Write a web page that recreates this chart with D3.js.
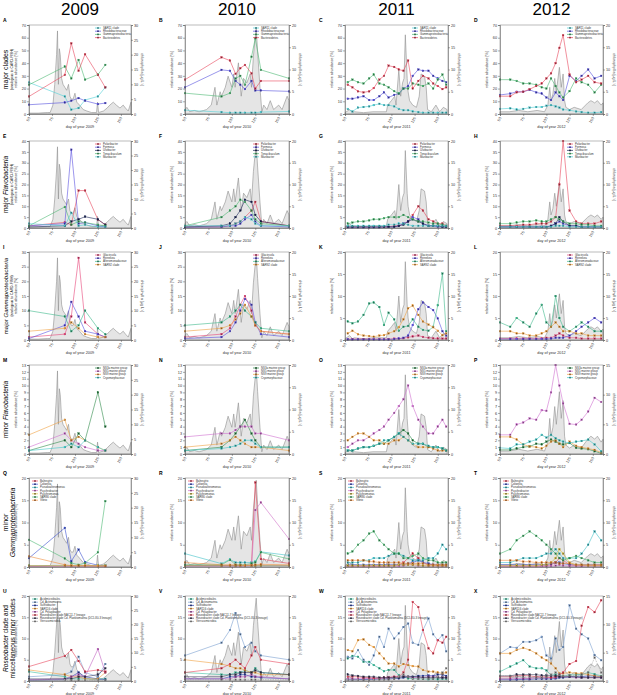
<!DOCTYPE html>
<html><head><meta charset="utf-8">
<script src="https://cdn.jsdelivr.net/npm/d3@7"></script>
<style>body{margin:0;background:#fff}text{font-family:"Liberation Sans",Arial,sans-serif}</style>
</head><body><svg id="c" width="617" height="695"></svg>
<script>
// ---------------- DATA ----------------
const years = ["2009", "2010", "2011", "2012"];
const xTicks = [50, 75, 100, 125, 150];
const sampleDays2009 = [50, 89, 96, 104, 111, 125, 133];
const sampleDays2010 = [50, 89, 98, 104, 109, 114, 121, 125, 131, 161];
const sampleDays2011 = [53, 58, 64, 70, 76, 81, 87, 92, 97, 103, 108, 113, 118, 123, 129, 134, 140, 145, 150, 155, 159];
const sampleDays2012 = [50, 61, 68, 75, 82, 89, 95, 100, 105, 110, 114, 118, 125, 132, 138, 145, 152, 159];

const chlDays2009 = [50,60,70,73,76,78,80,81,82,83,84,85.5,87,89,91,93,94.5,96,98,100,102,105,109,113,118,123.5,124.6,125.7,131,135,138,141.7,145,149,152.5,155,158,161];
const chlVals2009 = [0.3,0.3,0.5,0.5,3,10,20,28,10,22,20,12,10,9,8,10,6,5,5,7,4,3,1.5,1,0.5,0.5,4,0.5,1,2,3,4,3,2,3,2,1,4];
const chlDays2010 = [50,52,55,60,65,70,73,78,82,84,87.5,89,93,96,100,102,103.5,107,110,112.5,116,119.6,121,123,126,127.5,130,132,134,137.5,141,144.6,150,153.6,159,161];
const chlVals2010 = [1,1.5,0.5,0.8,0.5,0.8,1,2,6,2,5,4,6,8.5,6,9,6,11.5,4,8,7,9,6,13,19.5,14,6,0.5,2,1,3,1,2,1,4,3];
const chlDays2011 = [50,55,58,60,70,80,90,94.6,96,100,103.6,105,108,110,112,113.6,115,117,118,119.6,123,127,130,132,135.7,137.5,139,143,148,152,156,160];
const chlVals2011 = [0.3,1,0.3,0.5,0.3,0.5,0.5,0.5,2,3,4,2,10,4,7,8,17.8,8,5,3,2,1.5,4,9,8.5,6,1,0.5,2,0.5,1.5,1];
const chlDays2012 = [50,60,70,80,90,98,101.6,103.6,105,107,109,110.7,114,116,118,119.6,121,125,130,137.5,144.6,148,152,155,159,161];
const chlVals2012 = [0.5,0.5,0.8,0.5,0.8,0.5,2,6,3,4.5,8,5,10.5,6,9,3,1.5,1,1.5,1,2.5,3,2.5,3,2,2.5];

const namesRow1 = ["SAR11 clade", "Rhodobacteraceae", "Gammaproteobacteria", "Bacteroidetes"];
const namesRow2 = ["Polaribacter", "Formosa", "Ulvibacter", "Tenacibaculum", "Maribacter"];
const namesRow3 = ["Glaciecola", "Reinekea", "Alteromonadaceae", "SAR92 clade"];
const namesRow4 = ["NS3a marine group", "NS5 marine group", "NS9 marine group", "Cryomorphaceae"];
const namesRow5 = ["Balneatrix", "Colwellia", "Pseudoalteromonas", "Psychrobacter", "Psychromonas", "SAR86 clade", "Vibrio"];
const namesRow6 = ["Acidimicrobiales", "Cd. Actinomarina", "Sulfitobacter", "SAR116 clade", "Cd. Pelagibacter", "Roseobacter clade NAC11-7 lineage", "Roseobacter clade Cd. Planktomarina (DC5-80-3 lineage)", "Verrucomicrobia"];

// relative abundance [%], one row per taxon (legend order)
const panelA = [[24.8,13.8,3.4,4.7,11,13.8,21],[7.3,9,10.4,12.5,10.4,7.8,8.6],[23,37.3,28,42.5,27,31,38.6],[13.8,30.8,55.6,34,47,30.8,20.9]];
const panelB = [[3,1.5,1,1,1,1,1,1,1.5,2],[21,34.7,34,26,23,19.6,26,18.5,18.5,17.8],[16.4,13.8,16.4,28,30,23,45,59.5,34.7,28],[27,44.6,42,31.6,36,38.6,32,20,26,26]];
const panelC = [[4,2,5,5.5,6,7,8,7,7,6,4,3,3,2,1.5,1,1,1,1,1,1],[12,12,13,14,11,11,14,17,13,15,16,20,22,30,35,34,34,30,28,26,25],[25,27,25,24,28,31,24,23,21,18,16,20,20,24,23,22,24,20,27,31,23],[23,21,17.8,17,17.8,20.4,27,30,38,37,35,34,42,20,26,30,28,24,22,19.6,21]];
const panelD = [[4,4.5,3.5,4,5,5.5,5.5,6.5,7,6,5,3.5,3,2,1.5,1,1,1.5],[15,16,17.5,17.5,19,17,16,13,11,17,14,11,30,26,30,35,28,30],[27,27,26,24,24,23,21,20,28,22,17,13,18,28,25,23,17,23],[14,14,17,17.5,19.5,22,24,28,32,40,52,62,31,25,27,30,25,24]];
const panelE = [[1,2.6,1.5,17.2,17.2,3.8,1.5],[1,2,36,2,2.5,1,0.5],[0.5,1,3,4,5.2,4,1.5],[1,9.7,1.5,3,2.5,1.5,1],[2,1,7,1,1.5,0.5,0.5]];
const panelF = [[0.5,0.5,1,2,3,5,8,12,3,1],[0.3,0.5,1,1,2,4,6,3,1,0.5],[0.5,1,2,5,8,13,12,6,3,1],[1,5,8,10,13,12,8,4,2,1],[1,1,1,2,3,5,4,2,1,1]];
const panelG = [[0.5,0.5,0.5,0.5,0.5,0.5,0.5,0.5,0.5,1,1,2,3,6,10,8,4,3,2,2,1],[0.3,0.3,0.3,0.3,0.3,0.3,0.3,0.5,0.5,0.5,1,2,3,5,4,2,1,1,0.5,0.5,0.5],[0.5,0.5,0.5,0.5,0.5,0.5,0.5,0.5,0.5,0.5,1,1.5,3,4,3,2,1,1,1,0.5,0.5],[2,2.5,3,3,3.5,4,4,4.5,5,5,5,6,5,4,3,3,2.5,2,2,1.5,1],[1,1,1,1,1,1,1,1,1.5,1.5,2,2,1.5,1,1,1,1,1,1,1,1]];
const panelH = [[1,1,1,1.5,1.5,2,2,2,3,5,20,40,8,3,2,2,2,3],[0.5,0.5,0.5,0.5,0.5,0.5,0.5,0.5,1,2,3,2,1,1,0.5,0.5,0.5,0.5],[0.5,0.5,0.5,0.5,0.5,0.5,0.5,0.5,1,2,5,3,1,1,0.5,0.5,0.5,0.5],[2,2,2.5,3,3,3.5,3,3,4,5,4,3,2,2,1.5,1.5,1,1],[0.5,0.5,0.5,0.5,0.5,0.5,0.5,0.5,0.5,1,1,1,0.5,0.5,0.5,0.5,0.5,0.5]];
const panelI = [[1,2,8,28,6,2,1],[0.5,5,13,8,3,2,1],[10,8,3,5,10,4,2],[3,4,6,4,2,1,1]];
const panelJ = [[1,2,4,8,12,15,10,5,3,2],[0.5,1,3,6,10,14,12,6,2,1],[5,6,8,10,12,10,8,6,4,3],[3,4,5,7,9,12,8,5,3,2]];
const panelK = [[0.2,0.2,0.2,0.2,0.2,0.2,0.2,0.2,0.2,0.3,0.3,0.4,0.6,0.8,1,0.7,0.5,0.4,0.3,0.3,0.3],[0.1,0.1,0.1,0.1,0.1,0.1,0.1,0.1,0.1,0.2,0.3,0.5,1,3.4,7,8.5,7.5,6.8,4.9,2,1],[4.2,3.8,4.2,5.7,8.3,8.5,7.5,3.4,6.2,4.7,2.1,3,3.2,4.7,3,2.3,2.1,3,7.9,15.1,2],[1.5,2.1,1.3,1,0.9,0.75,1,1.1,1.5,2,2.9,4.7,7.2,7.8,5.7,4.2,3.5,2.9,2.1,1.1,1.5]];
const panelL = [[0.3,0.3,0.3,0.3,0.3,0.3,0.3,0.5,0.5,1,1.5,1,0.5,0.5,0.3,0.3,0.3,0.3],[0.2,0.2,0.2,0.2,0.2,0.2,0.2,0.2,0.3,0.5,0.5,0.5,1,2,3,4,5,4],[4,3,5,4,3,6,8,4,3,10,5,3,2,3,4,3,2,2],[2,2,1.5,1.5,1,1,1.5,2,3,4,3,2,2,1.5,1.5,1,1,1]];
const panelM = [[0.5,2,1,3,2,9,4],[1,3,2,1.5,1,0.5,0.5],[2.8,5,2,2.5,2,1,0.5],[0.5,1,1.5,1,2,1,0.5]];
const panelN = [[0.5,1,2,3,4,5,3,2,1,1],[2.5,3,3,3.5,4,4,4,3,3,2],[1,1.5,2,2.5,2,1.5,1,1,1,0.5],[0.5,0.8,1,1.2,1.5,2,2,1.5,1,1]];
const panelO = [[0.5,0.5,0.8,1,1,1.2,1.5,1.5,2,2.5,3,3.5,3,2,1.5,1.5,1,1,1,0.8,0.5],[1,1.5,2,2,2.5,3,3.5,4,5,6,7,8,10,7,5,4,3,3,4,5,4],[2,2.5,3,3,2.5,2,2,1.5,1.5,2,2,2.5,2,1.5,1,1,1,0.8,0.5,0.5,0.5],[0.5,0.5,0.8,1,1,1.2,1.5,2,2,2.5,3,2.5,2,1.5,1.5,1.5,1.2,1,1,0.8,0.5]];
const panelP = [[0.6,0.6,0.8,1,1.1,1.5,1.4,1.8,2.1,1.8,1.5,1.4,1.6,0.9,0.8,0.7,0.4,0.1],[2.8,2.8,4.3,4.6,5.2,5,6.4,6.3,9,13,10,7.4,4.4,4.3,5,6.2,8.2,7.6],[2.5,2.5,2.1,1.4,1.1,1,0.8,1.2,1.8,2,1.5,1,1.8,1.2,1,0.8,0.6,0.2],[0.9,0.8,1.4,1.4,1.8,2.1,2.8,2.4,2.8,2.3,2,1.8,1.6,1.8,1.9,2.1,1.4,0.4]];
const panelQ = [[0.2,0.2,0.2,0.2,0.2,0.2,0.2],[2,8.8,1.3,3.9,1.1,0.4,0.3],[0.3,0.3,0.3,0.3,0.3,0.3,0.3],[0.2,0.2,0.2,0.2,0.2,0.2,0.2],[0.3,0.3,0.3,0.3,0.3,0.3,0.3],[6.1,1.9,0.9,0.5,0.9,3.3,14.8],[2.4,0.5,0.3,0.3,0.3,0.2,0.2]];
const panelR = [[0.3,0.3,0.3,0.3,0.3,0.3,0.5,19,1.8,0.8],[0.3,0.3,0.3,0.3,0.3,0.3,0.3,0.3,0.3,0.3],[3,0.75,1.7,1,1,1,1,1.2,3.4,2.6],[0.2,0.2,0.2,0.2,0.2,0.2,0.3,12.8,14.5,6.3],[0.3,0.3,0.3,0.3,0.3,0.3,0.3,0.3,0.3,0.3],[0.5,0.5,1.6,0.5,0.5,0.5,0.8,1,3.3,1.8],[1,0.5,0.5,0.5,0.4,0.4,0.4,0.5,0.6,0.5]];
const panelS = [[0.2,0.2,0.2,0.2,0.2,0.2,0.2,0.2,0.3,0.3,0.5,1,2,3,2,1,0.5,0.5,0.3,0.3,0.3],[0.5,0.5,0.5,0.5,0.5,0.5,0.5,0.5,0.5,0.5,0.5,0.5,0.8,1,1.5,1,0.8,0.5,0.5,0.5,0.5],[1,1,1,1.5,1.5,2,2,2,2.5,3,3,2.5,2,1.5,1.5,1.5,2,2,3,5,4],[0.2,0.2,0.2,0.2,0.2,0.2,0.2,0.2,0.2,0.2,0.2,0.3,0.5,0.5,0.3,0.3,0.2,0.2,0.2,0.2,0.2],[0.3,0.3,0.3,0.3,0.3,0.3,0.3,0.3,0.3,0.3,0.5,0.5,0.5,0.5,0.5,0.3,0.3,0.3,0.3,0.3,0.3],[3,3.5,5,6,7.5,8,6,5,4,3,3,2,2,2.5,3,2,1.5,1.5,1,1,1],[1.5,1.5,1.5,1.5,1.2,1.2,1,1,1,1,1,0.8,0.8,0.8,0.8,0.8,0.5,0.5,0.5,0.5,0.5]];
const panelT = [[0.2,0.2,0.2,0.2,0.2,0.2,0.2,0.3,0.5,1,2,1.5,0.5,0.3,0.3,0.3,0.3,0.3],[0.5,0.5,0.5,0.5,0.5,0.5,0.5,0.5,0.8,1,1,0.8,0.5,0.5,0.5,0.5,0.5,0.5],[1,1,1.5,2,2,2,2.5,3,3,4,3,2,2,2,3,5,8,6],[0.2,0.2,0.2,0.2,0.2,0.2,0.2,0.2,0.2,0.3,0.5,0.3,0.2,0.2,0.2,0.2,0.2,0.2],[0.3,0.3,0.3,0.3,0.3,0.3,0.5,0.5,1,2,4,3,1,0.5,0.5,0.3,0.3,0.3],[3,4,6,7,8,7,6,5,4,3,2,1.5,2,2.5,2,1.5,1,1],[1.5,1.5,1.5,1.2,1.2,1,1,1,1,1,0.8,0.8,0.8,0.5,0.5,0.5,0.5,0.5]];
const panelU = [[2.2,1,0.5,0.5,0.5,0.5,0.5],[1,1.5,2.2,5.7,2,1,4],[0.2,0.3,1,2,1,0.5,0.3],[2.6,1.5,1,1,0.5,0.5,2],[0.3,0.5,1,1.5,1,7.5,2],[3.4,5.9,7.3,4.7,2.2,2.6,2.2],[0.5,0.5,0.5,1,1,1.5,3],[0.2,0.2,0.2,0.2,0.2,0.2,0.2]];
const panelV = [[2,1.5,1.5,2,2,2.5,2,3,2,1.5],[6,9,12,16,11,8,9,7,6,5],[0.5,0.5,1,1,1.5,1.5,1,1,0.8,0.5],[5,4,3.5,3,3,2.5,2,2,1.5,1.5],[0.5,0.5,0.5,1,1,1,1.5,1,1,0.5],[2,3,4,5,4,3,6,8,5,4],[1,1,1.5,1.5,2,2,2,2.5,2,1.5],[0.3,0.3,0.3,0.3,0.3,0.3,0.3,0.3,0.3,0.3]];
const panelW = [[5.3,5.9,5.7,4.5,4.5,3.75,3,2.3,2.6,2.6,1.4,1,0.6,0.6,0.5,0.5,0.4,0.5,0.4,0.5,0.5],[5.7,5.3,7.3,5,3.8,6,10.4,8,12.3,10,11.2,12.7,13.5,9,8.5,12,14.7,11,9.6,10.8,7],[0.3,0.3,0.3,0.4,0.4,0.4,0.5,0.5,0.5,0.6,0.6,0.8,1,1,1.2,1.2,1.3,1.2,1.5,1.5,1.2],[7.3,7,9.6,9.8,8.5,8,6.5,5.3,4.1,4.1,3.4,4,3.75,3.5,3.4,2.6,2.2,2.2,2,1.8,2],[0.5,0.5,0.5,0.6,0.6,0.6,0.6,0.8,0.8,1,1,1.2,1,0.8,0.8,0.8,1,1,1,0.8,0.8],[1,1,1,0.8,0.8,0.7,0.7,0.8,0.8,1,1,2,5,18.6,17.4,12,7.7,6.5,9.6,9,10.4],[1.5,1.3,1.2,1,1,1,0.8,0.8,0.8,0.8,0.8,1,1,1,1,0.8,0.8,0.8,0.8,0.8,0.8],[0.2,0.2,0.2,0.2,0.2,0.2,0.3,0.3,0.3,0.5,1,1.5,1,0.5,0.5,0.5,0.5,0.5,1,2,3]];
const panelX = [[2.2,3.4,4.1,4.9,3.4,3,3,2.5,1.4,1.5,1.2,1.2,1.4,1.5,1.5,2,1.6,1.2],[6.5,8,7.8,9.2,9.2,9.6,10.4,6,5.3,10,7.3,8,17.8,12.3,11,10,6.1,4.9],[0.3,0.3,0.3,0.4,0.4,0.5,0.5,0.5,0.5,0.6,0.8,0.8,1,1,1,1.2,1.2,1],[6.5,6.5,7.3,7.8,7.3,6.5,5.5,4.9,4.1,3,1.8,1.8,2,1.8,1.8,1.5,1.2,1],[0.5,0.5,0.6,0.6,0.6,0.8,0.8,0.8,0.8,0.8,1,1,1,0.8,0.8,0.8,0.8,0.8],[1,1,1.2,1.3,1.2,1,1,1,0.8,1,1.5,2,4,4.7,13,17.4,16.2,19],[1.2,1.2,1.5,1.5,1.5,1.5,1.3,1.3,1.2,1.2,1,1,1,1,0.8,0.8,0.8,0.8],[1.2,1.2,1,1,1,0.8,0.8,1,1.5,2,1.5,1.2,1.3,1.2,1.5,2,5.5,2]];

// axis maxima per panel (rows x years)
const relMax = [[70,70,70,70],[40,40,40,40],[30,30,20,20],[13,13,13,13],[20,20,20,20],[20,20,20,20]];
const relStep = [10,5,5,1,5,5];
const chlMax = [[30,20,20,20],[30,20,20,20],[30,20,20,20],[30,20,20,15],[30,20,20,20],[30,20,20,15]];

// ---------------- STYLE / LAYOUT ----------------
const colorsRow1 = ["#4fcfd6","#5550dd","#4cb872","#e8455c"];
const colorsRow2 = ["#e8455c","#5a4fe0","#1e2a5c","#4cb872","#4fcfd6"];
const colorsRow3 = ["#e8457a","#5a4fe0","#3cb88a","#f0a040"];
const colorsRow4 = ["#2f8a4a","#d070d0","#f0a040","#40c8c8"];
const colorsRow5 = ["#e8455c","#3a50d0","#40c0c8","#d070c8","#d8c040","#4cb872","#f09040"];
const colorsRow6 = ["#3dbfa0","#7a9fd0","#2840b0","#f0a040","#c060c0","#e8455c","#404060","#a0a0a0"];

const rowNames = [namesRow1,namesRow2,namesRow3,namesRow4,namesRow5,namesRow6];
const rowColors = [colorsRow1,colorsRow2,colorsRow3,colorsRow4,colorsRow5,colorsRow6];
const panels = [panelA,panelB,panelC,panelD,panelE,panelF,panelG,panelH,panelI,panelJ,panelK,panelL,panelM,panelN,panelO,panelP,panelQ,panelR,panelS,panelT,panelU,panelV,panelW,panelX];
const sampleDays = [sampleDays2009,sampleDays2010,sampleDays2011,sampleDays2012];
const chlDays = [chlDays2009,chlDays2010,chlDays2011,chlDays2012];
const chlVals = [chlVals2009,chlVals2010,chlVals2011,chlVals2012];
const letters = "ABCDEFGHIJKLMNOPQRSTUVWX";

const colX = [29,185,345,500], colW = [102,104,103,103];
const rowY = [25,141,252,365,478,596], rowH = [89,87,88,89,89,85];
const legendLeft = [false,false,false,false,true,true];

const svg = d3.select("#c");

years.forEach((yr,c)=>{
  svg.append("text").attr("x",colX[c]+colW[c]/2).attr("y",15).attr("text-anchor","middle")
    .attr("font-size",17).text(yr);
});

function styleAxis(g){
  g.selectAll("path,line").attr("stroke","#555").attr("stroke-width",0.5);
  g.selectAll("text").attr("font-size",3.8).attr("fill","#333");
}

for(let r=0;r<6;r++){
  for(let c=0;c<4;c++){
    const w=colW[c], h=rowH[r];
    const g=svg.append("g").attr("transform",`translate(${colX[c]},${rowY[r]})`);
    const x=d3.scaleLinear().domain([50,161]).range([0,w]);
    const y=d3.scaleLinear().domain([0,relMax[r][c]]).range([h,0]);
    const y2=d3.scaleLinear().domain([0,chlMax[r][c]]).range([h,0]);
    const chl=d3.zip(chlDays[c],chlVals[c]);
    g.append("path").datum(chl)
      .attr("d",d3.area().x(d=>x(d[0])).y0(h).y1(d=>y2(Math.min(d[1],chlMax[r][c]))))
      .attr("fill","#e5e5e5").attr("stroke","#8f8f8f").attr("stroke-width",0.6);
    const data=panels[r*4+c];
    const cols=rowColors[r];
    const line=d3.line().x(d=>x(d[0])).y(d=>y(d[1]));
    data.forEach((vals,i)=>{
      const pts=d3.zip(sampleDays[c],vals);
      const col=cols[i];
      g.append("path").datum(pts).attr("d",line).attr("fill","none")
        .attr("stroke",col).attr("stroke-width",0.7).attr("stroke-opacity",0.85)
        .attr("stroke-dasharray", i===7 && r===5 ? "1.5,1" : null);
      g.selectAll(null).data(pts).enter().append("rect")
        .attr("x",d=>x(d[0])-0.85).attr("y",d=>y(d[1])-0.85).attr("width",1.7).attr("height",1.7)
        .attr("fill",d3.color(col).darker(1.6)).attr("stroke",col).attr("stroke-width",0.3);
    });
    g.append("rect").attr("width",w).attr("height",h).attr("fill","none").attr("stroke","#777").attr("stroke-width",0.5);
    const yt=d3.range(0,relMax[r][c]+1e-6,relStep[r]);
    const ga=g.append("g").call(d3.axisLeft(y).tickValues(yt).tickSize(2).tickPadding(1)); styleAxis(ga);
    const ct=d3.range(0,chlMax[r][c]+1e-6,5);
    const gb=g.append("g").attr("transform",`translate(${w},0)`).call(d3.axisRight(y2).tickValues(ct).tickSize(2).tickPadding(1)); styleAxis(gb);
    const gx=g.append("g").attr("transform",`translate(0,${h})`).call(d3.axisBottom(x).tickValues(xTicks).tickSize(2)); styleAxis(gx);
    gx.selectAll("text").attr("y",0).attr("dy",0).attr("text-anchor","end")
      .attr("transform","translate(1,4) rotate(-60)");
    g.append("text").attr("transform",`translate(-12,${h/2}) rotate(-90)`).attr("text-anchor","middle")
      .attr("font-size",3.6).attr("fill","#333").text("relative abundance [%]");
    g.append("text").attr("transform",`translate(${w+10},${h/2}) rotate(90)`).attr("text-anchor","middle")
      .attr("font-size",3.6).attr("fill","#333").text("chlorophyll a [µg L⁻¹]");
    g.append("text").attr("x",w/2).attr("y",h+14).attr("text-anchor","middle")
      .attr("font-size",3.8).attr("fill","#333").text("day of year "+years[c]);
    g.append("text").attr("x",-26).attr("y",-3).attr("font-size",5).attr("font-weight","bold").text(letters[r*4+c]);
    const names=rowNames[r];
    const lx = legendLeft[r] ? 3 : w-36;
    names.forEach((n,i)=>{
      const ly=3+i*3.2;
      g.append("line").attr("x1",lx).attr("x2",lx+6).attr("y1",ly).attr("y2",ly).attr("stroke",cols[i]).attr("stroke-width",0.7);
      g.append("rect").attr("x",lx+2.2).attr("y",ly-0.8).attr("width",1.6).attr("height",1.6).attr("fill",d3.color(cols[i]).darker(1.6));
      g.append("text").attr("x",lx+8).attr("y",ly+1).attr("font-size",2.8).attr("fill","#333").text(n);
    });
  }
}

// row labels
const rowLabelData = [
  {lines:[[["major clades",false]]], sub:"(analogous to CARD-FISH)", fs:7},
  {lines:[[["major ",false],["Flavobacteria",true]]], sub:"(analogous to CARD-FISH)", fs:6.5},
  {lines:[[["major ",false],["Gammaproteobacteria",true]]], sub:"(analogous to CARD-FISH)", fs:6},
  {lines:[[["minor ",false],["Flavobacteria",true]]], sub:null, fs:6.5},
  {lines:[[["minor",false]],[["Gammaproteobacteria",true]]], sub:null, fs:7},
  {lines:[[["Roseobacter",true],[" clade and",false]],[["miscellaneous minor clades",false]]], sub:null, fs:6.5}
];
rowLabelData.forEach((rl,r)=>{
  const cy=rowY[r]+rowH[r]/2;
  rl.lines.forEach((ln,k)=>{
    const t=svg.append("text").attr("transform",`translate(${8+k*6.5},${cy}) rotate(-90)`)
      .attr("text-anchor","middle").attr("font-size",rl.fs);
    ln.forEach(([s,it])=>t.append("tspan").attr("font-style",it?"italic":"normal").text(s));
  });
  if(rl.sub){
    svg.append("text").attr("transform",`translate(13,${cy}) rotate(-90)`)
      .attr("text-anchor","middle").attr("font-size",3.4).text(rl.sub);
  }
});
</script></body></html>
